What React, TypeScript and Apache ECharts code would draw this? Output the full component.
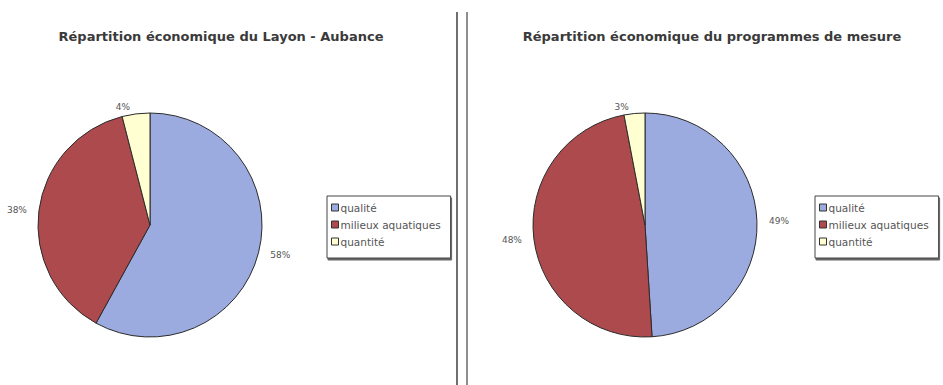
import React, { useEffect, useRef } from "react";
import * as echarts from "echarts";

const categories = ["qualité", "milieux aquatiques", "quantité"];
const layonAubance = [58, 38, 4];
const programmesMesure = [49, 48, 3];
const titles = [
  "Répartition économique du Layon - Aubance",
  "Répartition économique du programmes de mesure",
];
const colors = ["#9cabdf", "#ad4a4d", "#ffffd2"];

const FONT = "'DejaVu Sans', Verdana, sans-serif";

function pieSeries(values: number[], center: [number, number]) {
  return {
    type: "pie",
    center,
    radius: 112,
    startAngle: 90,
    clockwise: true,
    avoidLabelOverlap: false,
    data: categories.map((name, i) => ({
      name,
      value: values[i],
      itemStyle: { color: colors[i] },
    })),
    itemStyle: { borderColor: "#2b2b2b", borderWidth: 1 },
    label: {
      show: true,
      position: "outside",
      formatter: "{c}%",
      fontFamily: FONT,
      fontSize: 9,
      color: "#555",
    },
    labelLine: { show: false, length: 7, length2: 0 },
    emphasis: { disabled: true },
  };
}

function legendBox(left: number) {
  return {
    orient: "vertical",
    left,
    top: 196,
    data: categories,
    itemWidth: 7,
    itemHeight: 7,
    itemGap: 6,
    padding: [6, 10, 11, 4],
    borderColor: "#444",
    borderWidth: 1,
    shadowColor: "#666",
    shadowOffsetX: 1,
    shadowOffsetY: 2,
    shadowBlur: 0,
    backgroundColor: "#fff",
    icon: "rect",
    itemStyle: { borderColor: "#333", borderWidth: 1 },
    textStyle: { fontFamily: FONT, fontSize: 10.5, color: "#555", padding: [0, 0, 0, -3] },
    selectedMode: false,
  };
}

const titleStyle = {
  fontFamily: FONT,
  fontSize: 13,
  fontWeight: "bold",
  color: "#3a3a3a",
};

export default function App() {
  const ref = useRef<HTMLDivElement>(null);

  useEffect(() => {
    if (!ref.current) return;
    const chart = echarts.init(ref.current, undefined, { renderer: "svg" });
    chart.setOption({
      animation: false,
      backgroundColor: "#ffffff",
      title: [
        { text: titles[0], left: 216, top: 25, textAlign: "center", textStyle: titleStyle },
        { text: titles[1], left: 707, top: 25, textAlign: "center", textStyle: titleStyle },
      ],
      legend: [legendBox(327), legendBox(815)],
      series: [
        pieSeries(layonAubance, [150, 225]),
        pieSeries(programmesMesure, [645, 225]),
      ],
      graphic: [
        {
          type: "line",
          z: 100,
          shape: { x1: 457, y1: 12, x2: 457, y2: 385 },
          style: { stroke: "#333", lineWidth: 1.4 },
        },
        {
          type: "line",
          z: 100,
          shape: { x1: 467, y1: 12, x2: 467, y2: 385 },
          style: { stroke: "#444", lineWidth: 1.2 },
        },
      ],
    });
    return () => chart.dispose();
  }, []);

  return (
    <div
      ref={ref}
      style={{ position: "fixed", left: 0, top: 0, width: 943, height: 385 }}
    />
  );
}
